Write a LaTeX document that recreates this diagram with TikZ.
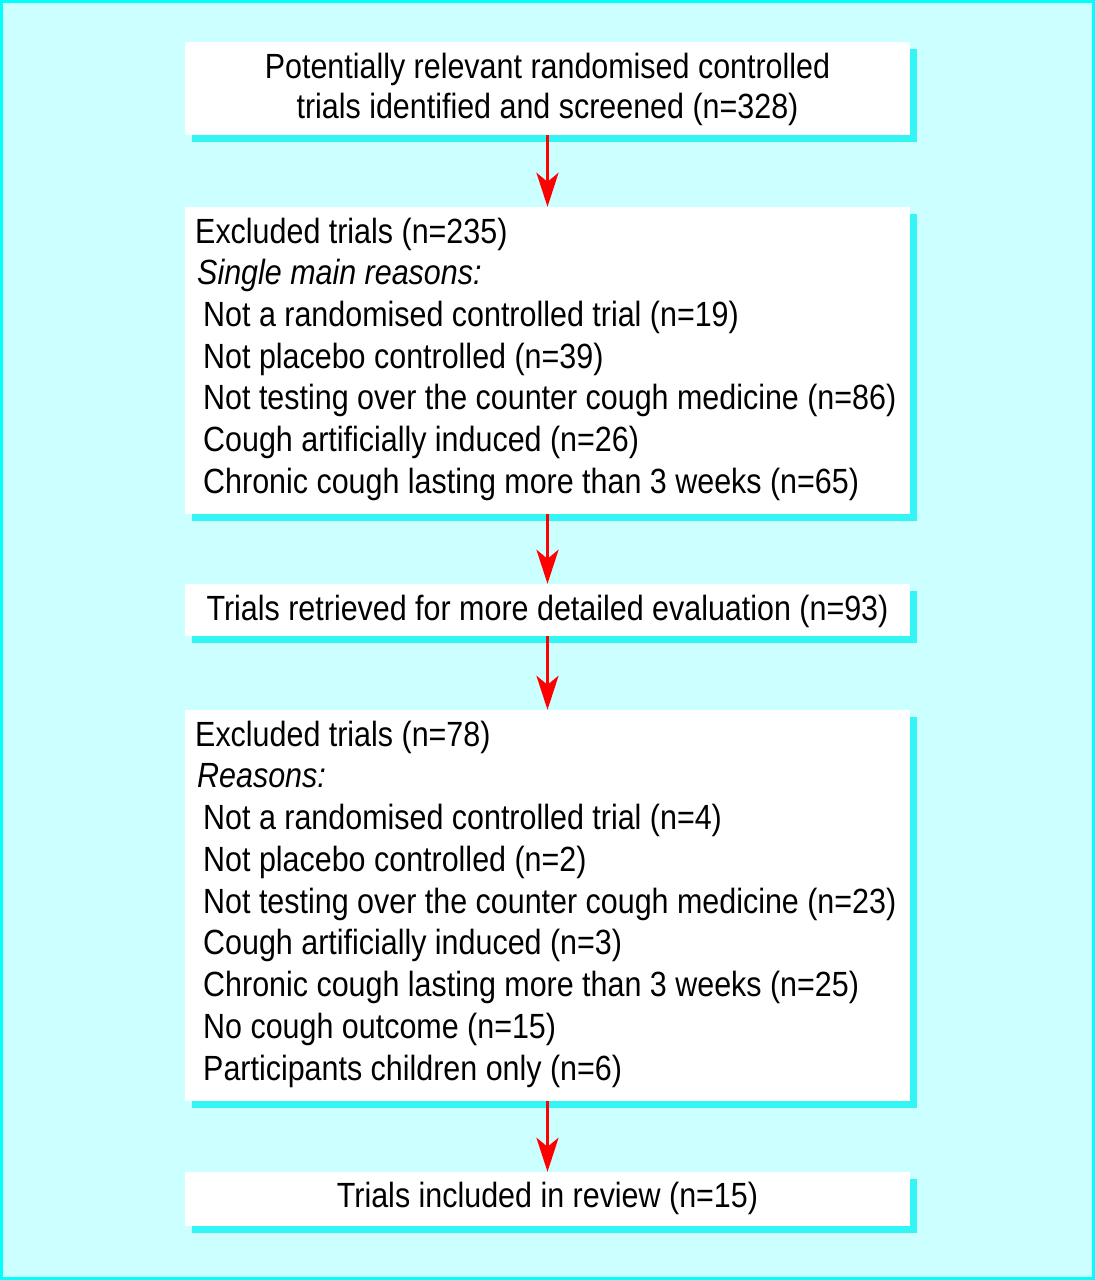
\documentclass[tikz,border=0pt]{standalone}
\usepackage{fontspec}
\setmainfont[FakeStretch=0.87]{Liberation Sans}
\usetikzlibrary{shadows,arrows.meta}
\definecolor{bgc}{HTML}{CCFFFF}
\definecolor{framec}{HTML}{00FFFF}
\definecolor{shadowc}{HTML}{33F5F5}
\definecolor{arrc}{HTML}{FF0000}
\begin{document}
\begin{tikzpicture}[x=1pt,y=-1pt,
  box/.style={draw=none, fill=white, minimum width=725pt, inner sep=0pt,
    drop shadow={shadow xshift=7pt, shadow yshift=-7pt, fill=shadowc, opacity=1}},
  txt/.style={inner sep=0pt, font=\fontsize{35}{41.7}\selectfont, text=black},
  arr/.style={draw=arrc, line width=3.5pt, -{Stealth[length=34pt,width=22pt,inset=9pt]}, shorten >=0pt, shorten <=0pt}]
\useasboundingbox (0,0) rectangle (1095,1280);
\fill[bgc] (0,0) rectangle (1095,1280);
\draw[framec, line width=3pt] (1.5,1.5) rectangle (1093.5,1278.5);
% boxes
\node[box, minimum height=93pt] (b1) at (547.5,88.5) {};
\node[box, minimum height=307pt] (b2) at (547.5,360.5) {};
\node[box, minimum height=52pt] (b3) at (547.5,610) {};
\node[box, minimum height=391pt] (b4) at (547.5,905.5) {};
\node[box, minimum height=54pt] (b5) at (547.5,1199) {};
% box 1 text
\node[txt, anchor=base] (t1a) at (547.5,78) {Potentially relevant randomised controlled};
\node[txt, anchor=base] (t1b) at (547.5,118) {trials identified and screened (n=328)};
% box 2 text
\node[txt, anchor=base west] (t2a) at (195,243) {Excluded trials (n=235)};
\node[txt, anchor=base west] (t2b) at (197,284.7) {\itshape Single main reasons:};
\node[txt, anchor=base west] (t2c) at (203,326.3) {Not a randomised controlled trial (n=19)};
\node[txt, anchor=base west] (t2d) at (203,368) {Not placebo controlled (n=39)};
\node[txt, anchor=base west] (t2e) at (203,409.7) {Not testing over the counter cough medicine (n=86)};
\node[txt, anchor=base west] (t2f) at (203,451.3) {Cough artificially induced (n=26)};
\node[txt, anchor=base west] (t2g) at (203,493) {Chronic cough lasting more than 3 weeks (n=65)};
% box 3 text
\node[txt, anchor=base] (t3) at (547.5,620) {Trials retrieved for more detailed evaluation (n=93)};
% box 4 text
\node[txt, anchor=base west] (t4a) at (195,746) {Excluded trials (n=78)};
\node[txt, anchor=base west] (t4b) at (197,787.7) {\itshape Reasons:};
\node[txt, anchor=base west] (t4c) at (203,829.5) {Not a randomised controlled trial (n=4)};
\node[txt, anchor=base west] (t4d) at (203,871.2) {Not placebo controlled (n=2)};
\node[txt, anchor=base west] (t4e) at (203,913) {Not testing over the counter cough medicine (n=23)};
\node[txt, anchor=base west] (t4f) at (203,954.7) {Cough artificially induced (n=3)};
\node[txt, anchor=base west] (t4g) at (203,996.5) {Chronic cough lasting more than 3 weeks (n=25)};
\node[txt, anchor=base west] (t4h) at (203,1038.2) {No cough outcome (n=15)};
\node[txt, anchor=base west] (t4i) at (203,1080) {Participants children only (n=6)};
% box 5 text
\node[txt, anchor=base] (t5) at (547.5,1207) {Trials included in review (n=15)};
% arrows
\draw[arr] (b1) -- (b2);
\draw[arr] (b2) -- (b3);
\draw[arr] (b3) -- (b4);
\draw[arr] (b4) -- (b5);
\end{tikzpicture}
\end{document}
